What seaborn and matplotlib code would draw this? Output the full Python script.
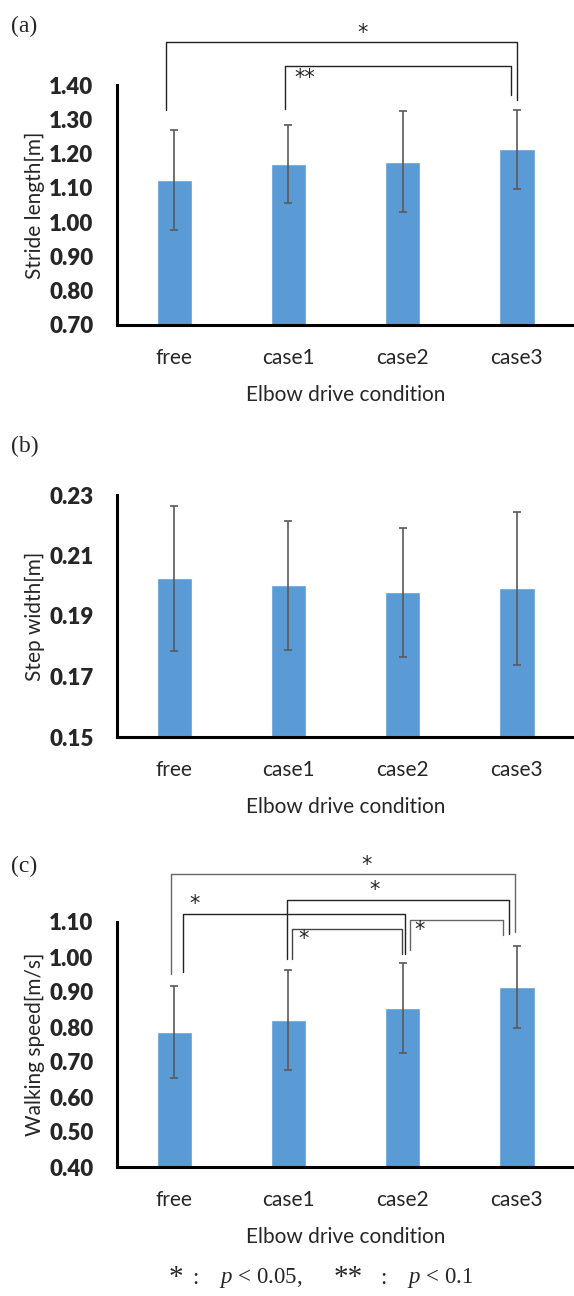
import matplotlib
matplotlib.use("Agg")
import matplotlib.pyplot as plt
import seaborn as sns
import pandas as pd

sns.set_style("white")
plt.rcParams['font.family'] = ['Lato', 'DejaVu Sans']
plt.rcParams['mathtext.fontset'] = 'custom'
plt.rcParams['mathtext.rm'] = 'Liberation Serif'
plt.rcParams['mathtext.it'] = 'Liberation Serif:italic'

conditions = ["free", "case1", "case2", "case3"]

stride_mean = [1.123, 1.169, 1.176, 1.212]
stride_sd = [0.146, 0.114, 0.147, 0.116]

width_mean = [0.2024, 0.2001, 0.1978, 0.1991]
width_sd = [0.0240, 0.0212, 0.0214, 0.0253]

speed_mean = [0.786, 0.821, 0.855, 0.914]
speed_sd = [0.1325, 0.1425, 0.1285, 0.1175]

stride_ticks = [0.70, 0.80, 0.90, 1.00, 1.10, 1.20, 1.30, 1.40]
width_ticks = [0.15, 0.17, 0.19, 0.21, 0.23]
speed_ticks = [0.40, 0.50, 0.60, 0.70, 0.80, 0.90, 1.00, 1.10]

# significance brackets: x_left, x_right, y_top, y_left_end, y_right_end, label, label_x, label_y, colour
brackets_a = [
    (-0.07, 3.00, 1.526, 1.327, 1.356, "*", 1.65, 1.553, "#222222"),
    (0.97, 2.95, 1.456, 1.330, 1.371, "**", 1.14, 1.421, "#222222"),
]
brackets_c = [
    (-0.025, 2.984, 1.238, 0.952, 1.071, "*", 1.68, 1.264, "#666666"),
    (0.987, 2.93, 1.164, 0.995, 1.067, "*", 1.75, 1.190, "#222222"),
    (0.08, 2.02, 1.124, 0.957, 1.010, "*", 0.18, 1.150, "#222222"),
    (1.03, 1.99, 1.081, 0.995, 1.010, "*", 1.13, 1.051, "#444444"),
    (2.06, 2.88, 1.105, 1.019, 1.064, "*", 2.15, 1.078, "#666666"),
]

BAR = "#5B9BD5"
ERR = "#595959"

fig = plt.figure(figsize=(5.74, 12.96), dpi=100)
ax_a = fig.add_axes([0.204, 1 - 325 / 1296, 0.796, 240 / 1296])
ax_b = fig.add_axes([0.204, 1 - 737 / 1296, 0.796, 242 / 1296])
ax_c = fig.add_axes([0.204, 1 - 1167 / 1296, 0.796, 245 / 1296])


def draw_panel(ax, means, sds, ticks, ylabel, brackets):
    df = pd.DataFrame({"condition": conditions, "value": means})
    sns.barplot(data=df, x="condition", y="value", color=BAR, width=0.31,
                saturation=1, errorbar=None, ax=ax)
    ax.errorbar(range(len(conditions)), means, yerr=sds, fmt="none",
                ecolor=ERR, elinewidth=1.2, capsize=3.2, capthick=1.2)
    ax.set_xlim(-0.5, 3.5)
    ax.set_ylim(ticks[0], ticks[-1])
    ax.set_yticks(ticks)
    ax.set_yticklabels([f"{t:.2f}" for t in ticks], fontweight="heavy", fontsize=16)
    ax.tick_params(axis="x", labelsize=15, length=0, pad=16.5)
    ax.tick_params(axis="y", length=0, pad=17)
    ax.set_xlabel("Elbow drive condition", fontsize=15, labelpad=12)
    ax.set_ylabel(ylabel, fontsize=15, labelpad=3)
    sns.despine(ax=ax)
    for side in ["left", "bottom"]:
        ax.spines[side].set_linewidth(2.2)
        ax.spines[side].set_color("black")
    for xl, xr, yt, yl, yr, lab, lx, ly, col in brackets:
        ax.plot([xl, xl, xr, xr], [yl, yt, yt, yr], color=col,
                linewidth=1.0, clip_on=False)
        ax.text(lx, ly, lab, ha="center", va="center", fontsize=15,
                family="DejaVu Sans", clip_on=False)


draw_panel(ax_a, stride_mean, stride_sd, stride_ticks, "Stride length[m]", brackets_a)
draw_panel(ax_b, width_mean, width_sd, width_ticks, "Step width[m]", [])
draw_panel(ax_c, speed_mean, speed_sd, speed_ticks, "Walking speed[m/s]", brackets_c)

for tag, ypx in [("(a)", 26), ("(b)", 446), ("(c)", 866)]:
    fig.text(11 / 574, 1 - ypx / 1296, tag, fontsize=17,
             family="Liberation Serif", va="center", ha="left")

# footnote
foot_y = 1 - 1278 / 1296
for piece, xpx, size in [("*", 169, 21), (":", 192, 16.5), ("$p$ < 0.05,", 219, 16.5),
                         ("**", 334, 21), (":", 380, 16.5), ("$p$ < 0.1", 407, 16.5)]:
    fig.text(xpx / 574, foot_y, piece, ha="left", va="center", fontsize=size,
             family="Liberation Serif")

fig.savefig("out.png", dpi=100)
